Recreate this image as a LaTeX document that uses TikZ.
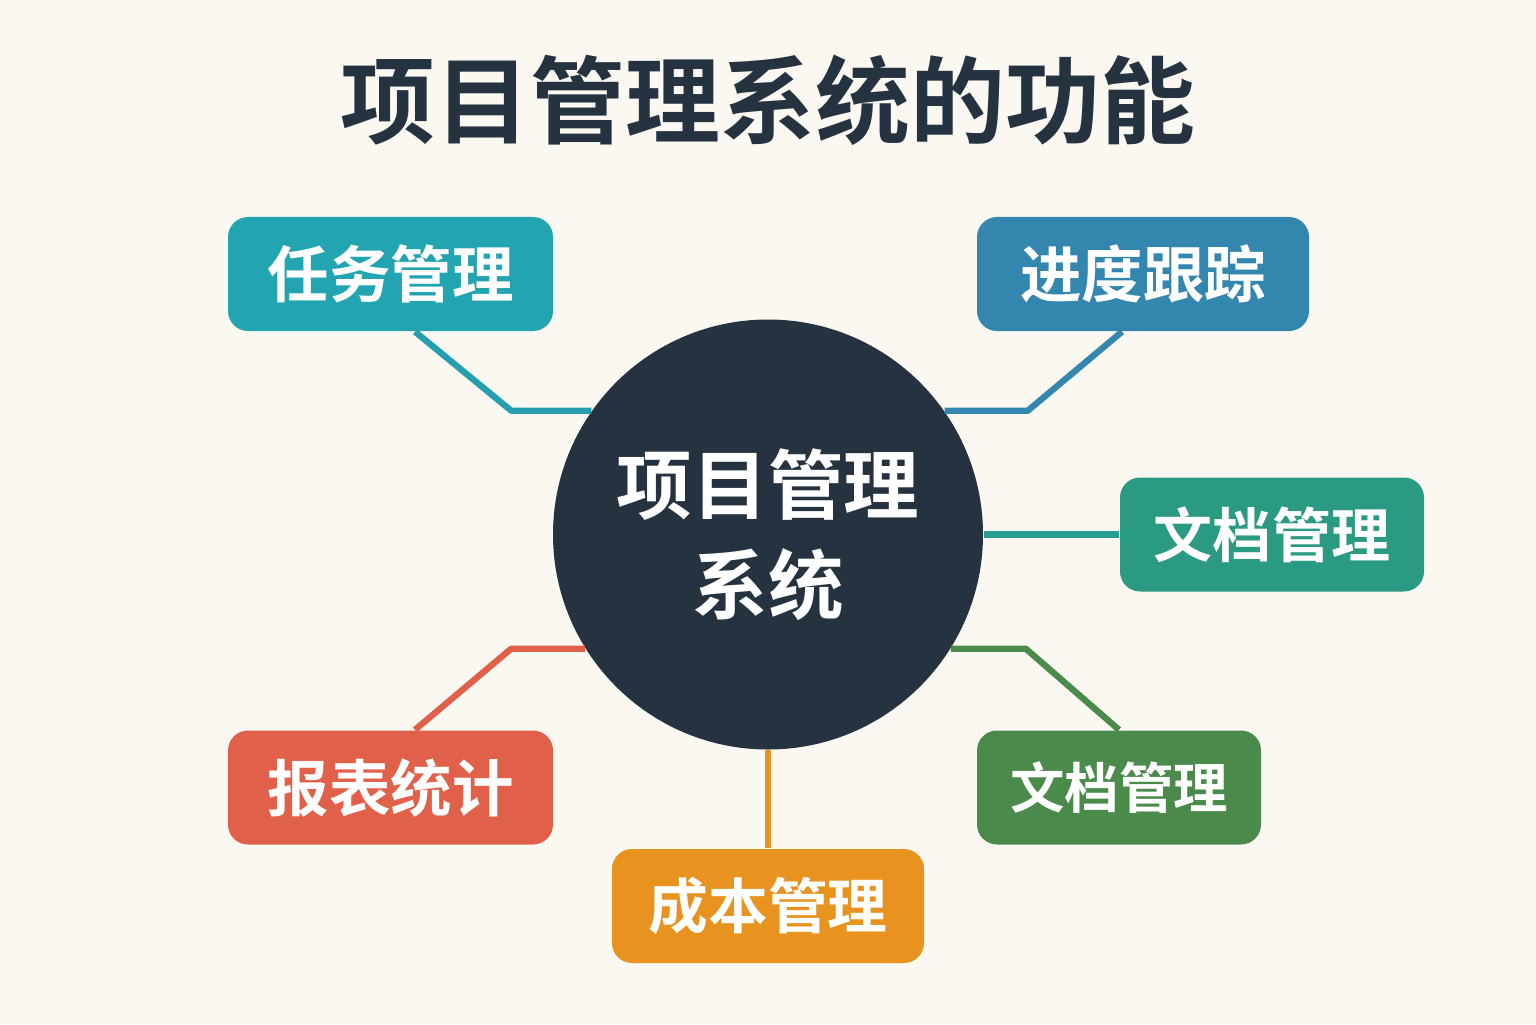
\documentclass[tikz,border=0pt]{standalone}
\usepackage{fontspec}
\setmainfont{Noto Sans CJK SC}[BoldFont={Noto Sans CJK SC Bold}]
\usetikzlibrary{positioning}

\definecolor{bgcol}{HTML}{FBF8F1}
\definecolor{darkcol}{HTML}{253341}
\definecolor{taskcol}{HTML}{22A5B1}
\definecolor{trackcol}{HTML}{3386AE}
\definecolor{doccol}{HTML}{2A9A82}
\definecolor{docbcol}{HTML}{4A8A4A}
\definecolor{costcol}{HTML}{E8921F}
\definecolor{reportcol}{HTML}{E0604A}

\begin{document}
\begin{tikzpicture}[
                hub/.style={circle, fill=darkcol, minimum size=4.3cm, inner sep=0pt,
                    text=white, font=\fontsize{21.5}{27}\selectfont\bfseries, align=center},
                item/.style={rounded corners=0.2cm, minimum height=1.14cm, inner sep=0pt,
                    text=white, font=\fontsize{17.5}{20}\selectfont\bfseries},
                link/.style={line width=1.8pt, line join=round}
            ]
                \fill[bgcol] (0,0) rectangle (15.36,10.24);
                \useasboundingbox (0,0) rectangle (15.36,10.24);

                \node[text=darkcol, font=\fontsize{27}{30}\selectfont\bfseries] (title) at (7.68,9.24) {项目管理系统的功能};

                \node[hub] (hub) at (7.68,4.895) {项目管理\\[1.5pt]系统};

                \node[item, fill=taskcol, minimum width=3.25cm] (task) at (3.905,7.50) {任务管理};
                \node[item, fill=trackcol, minimum width=3.32cm] (track) at (11.43,7.50) {进度跟踪};
                \node[item, fill=doccol, minimum width=3.04cm, font=\fontsize{16.8}{20}\selectfont\bfseries] (doc) at (12.72,4.895) {文档管理};
                \node[item, fill=docbcol, minimum width=2.84cm, font=\fontsize{15.5}{20}\selectfont\bfseries] (docb) at (11.19,2.365) {文档管理};
                \node[item, fill=costcol, minimum width=3.12cm, font=\fontsize{17}{20}\selectfont\bfseries] (cost) at (7.68,1.18) {成本管理};
                \node[item, fill=reportcol, minimum width=3.25cm] (report) at (3.905,2.365) {报表统计};

                % connectors
                \draw[link, draw=taskcol!80!trackcol] ([xshift=2.45mm]task.south) -- ([xshift=-8mm]hub.145) -- (hub.145);
                \draw[link, draw=trackcol] ([xshift=-2.1mm]track.south) -- ([xshift=8.3mm]hub.35) -- (hub.35);
                \draw[link, draw=doccol!70!taskcol] (hub.east) -- (doc.west);
                \draw[link, draw=docbcol] (hub.-32) -- ([xshift=7.5mm]hub.-32) -- (docb.north);
                \draw[link, draw=costcol] (hub.south) -- (cost.north);
                \draw[link, draw=reportcol] (hub.212) -- ([xshift=-7.4mm]hub.212) -- ([xshift=2.45mm]report.north);
            \end{tikzpicture}
\end{document}
